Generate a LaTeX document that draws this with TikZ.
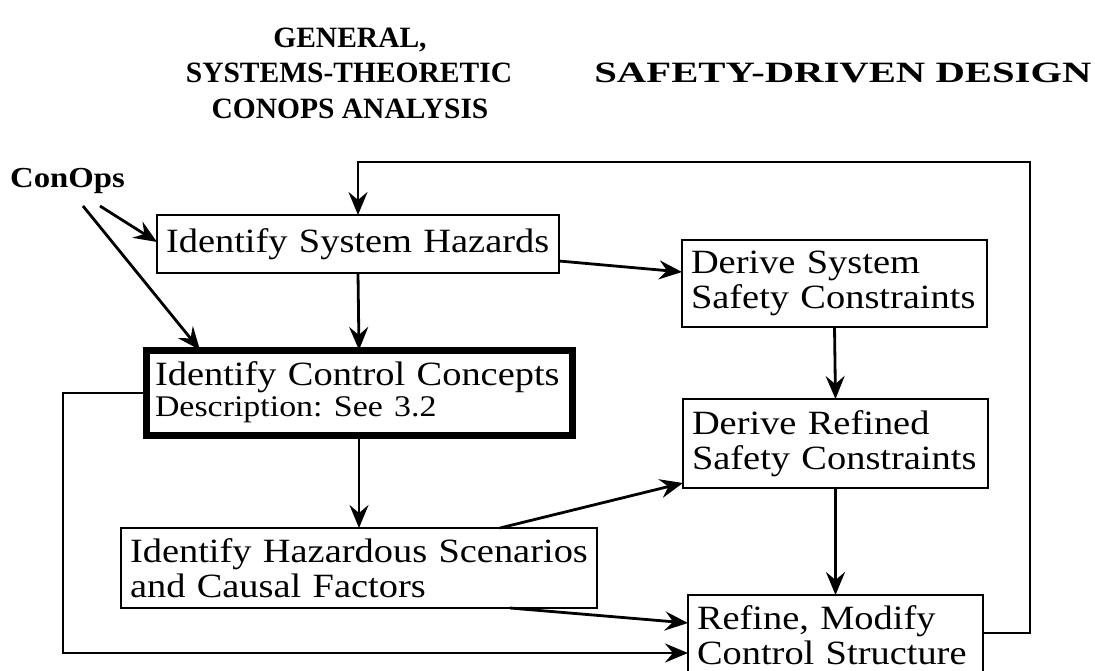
\documentclass[tikz,border=0pt]{standalone}
\usepackage{fontspec}
\setmainfont{Liberation Serif}[FakeStretch=1.13]
\newfontfamily\titlefont{Liberation Serif}
\newfontfamily\wtitlefont{Liberation Serif}[FakeStretch=1.38]
\usetikzlibrary{arrows.meta,calc}
\tikzset{
  box/.style={draw, line width=2.8pt, anchor=north west, outer sep=0pt,
    inner xsep=9pt, inner ysep=0pt, align=left,
    font=\fontsize{34}{35}\selectfont\frenchspacing},
  thickbox/.style={box, line width=7pt},
  ttl/.style={anchor=base, inner sep=0pt, font=\fontsize{29.5}{34}\selectfont\titlefont\bfseries},
  arr/.style={line width=2.8pt, -{Stealth[length=23pt,width=19pt,inset=8pt]}}
}
\begin{document}
\begin{tikzpicture}[x=1pt,y=-1pt]
\clip (0,0) rectangle (1095,671);
\fill[white] (0,0) rectangle (1095,671);
% titles
\node[ttl] (t1) at (350,48) {GENERAL,};
\node[ttl] (t2) at (349,83) {SYSTEMS-THEORETIC};
\node[ttl] (t3) at (350,119) {CONOPS ANALYSIS};
\node[anchor=base, inner sep=0pt, font=\fontsize{29.5}{34}\selectfont\wtitlefont\bfseries] (t4) at (843,83) {SAFETY-DRIVEN DESIGN};
\node[anchor=base west, inner sep=0pt, font=\fontsize{29}{30}\selectfont\bfseries] (conops) at (10,188) {ConOps};
% boxes
\node[box, minimum width=402pt, text width=384pt, minimum height=58pt] (B1) at (157,215) {Identify System Hazards};
\node[box, minimum width=305pt, text width=287pt, minimum height=87pt] (B2) at (682,240) {Derive System\\Safety Constraints};
\node[thickbox, minimum width=426pt, text width=408pt, minimum height=85pt] (B3) at (146,350) {Identify Control Concepts\\[-4pt]{\fontsize{30}{30}\selectfont Description: See 3.2}};
\node[box, minimum width=305pt, text width=287pt, minimum height=89pt] (B4) at (683,399) {Derive Refined\\Safety Constraints};
\node[box, minimum width=476pt, text width=458pt, minimum height=80pt] (B5) at (121,528) {Identify Hazardous Scenarios\\and Causal Factors};
\node[box, minimum width=295pt, text width=277pt, minimum height=80pt] (B6) at (688,595) {Refine, Modify\\Control Structure};
% free points
\coordinate (c1) at (100,206);
\coordinate (c2) at (83,206);
\coordinate (l1) at (63,393);
\coordinate (l2) at (63,653);
\coordinate (r1) at (1030,633);
\coordinate (r2) at (1030,162);
\coordinate (r3) at (358,162);
% connectors
\draw[arr] (c1) -- (B1.west |- 0,242);
\draw[arr] (c2) -- (B3.north west -| 200,0);
\draw[arr] (B1.south) -- (B3.north);
\draw[arr] (B1.east |- 0,261) -- (B2.west |- 0,272);
\draw[arr] (B2.south) -- (B4.north);
\draw[arr] (B3.south) -- (B5.north);
\draw[arr] (B5.north -| 500,0) -- (B4.west |- 0,483);
\draw[arr] (B5.south -| 510,0) -- (B6.west |- 0,623);
\draw[arr] (B3.west |- l1) -- (l1) -- (l2) -- (B6.west |- l2);
\draw[arr] (B4.south) -- (B6.north);
\draw[arr] (B6.east |- r1) -- (r1) -- (r2) -- (r3) -- (B1.north);
\end{tikzpicture}
\end{document}
